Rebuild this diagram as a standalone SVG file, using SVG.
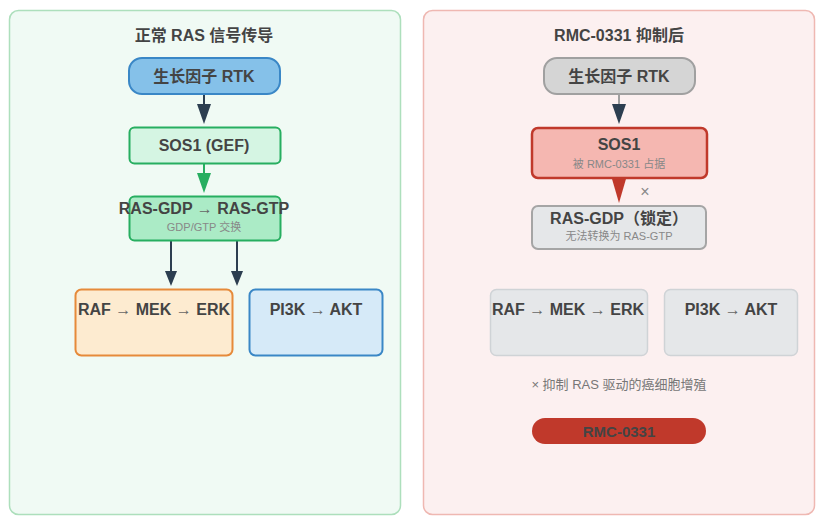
<svg xmlns="http://www.w3.org/2000/svg" width="829" height="526" viewBox="0 0 829 526">
<defs>
<style>
.t{font-family:"Liberation Sans","Noto Sans CJK SC",sans-serif;font-weight:bold;fill:#444;text-anchor:middle}
.s{font-family:"Liberation Sans","Noto Sans CJK SC",sans-serif;fill:#888;text-anchor:middle;font-size:11px}
.ar{font-weight:normal;fill:#666}
.dk{stroke:#2c3e50;stroke-width:2;fill:none}
</style>
</defs>
<rect width="829" height="526" fill="#ffffff"/>
<g id="panel-left">
<rect x="9.5" y="10.5" width="391" height="504" rx="9" fill="#f0faf4" stroke="#addfbc" stroke-width="1.5"/>
<text class="t" x="204" y="41" font-size="16">正常 RAS 信号传导</text>
</g>
<g id="panel-right">
<rect x="423.5" y="10.5" width="391" height="504" rx="9" fill="#fcf0f0" stroke="#efb8b2" stroke-width="1.5"/>
<text class="t" x="619" y="41" font-size="16">RMC-0331 抑制后</text>
</g>
<g id="connectors">
<line x1="204" y1="94" x2="204" y2="104" class="dk"/>
<path d="M197,104 L211,104 L204,124 Z" fill="#2c3e50"/>
<line x1="204" y1="163" x2="204" y2="173" stroke="#27ae60" stroke-width="2"/>
<path d="M197,173 L211,173 L204,193 Z" fill="#27ae60"/>
<line x1="171" y1="240" x2="171" y2="272" class="dk"/>
<path d="M165,271 L177,271 L171,286 Z" fill="#2c3e50"/>
<line x1="237" y1="240" x2="237" y2="272" class="dk"/>
<path d="M231,271 L243,271 L237,286 Z" fill="#2c3e50"/>
<line x1="619" y1="94" x2="619" y2="104" stroke="#a0a0a0" stroke-width="2"/>
<path d="M612,104 L626,104 L619,124 Z" fill="#2c3e50"/>
<path d="M610,172 L628,172 L619,203 Z" fill="#c0392b"/>
<text x="645" y="197" font-family="Liberation Sans, sans-serif" font-size="16" fill="#888" text-anchor="middle">×</text>
</g>
<g id="rtk-left">
<rect x="129" y="58" width="151" height="36" rx="13" fill="#85c1e9" stroke="#3a87c6" stroke-width="2"/>
<text class="t" x="204" y="82" font-size="16">生长因子 RTK</text>
</g>
<g id="sos1-left">
<rect x="129.5" y="127.5" width="151" height="36" rx="5" fill="#d5f5e3" stroke="#27ae60" stroke-width="2"/>
<text class="t" x="204" y="151" font-size="16">SOS1 (GEF)</text>
</g>
<g id="ras-left">
<rect x="129.5" y="196.5" width="151" height="44" rx="5" fill="#abebc6" stroke="#27ae60" stroke-width="2"/>
<text class="t" x="204" y="214" font-size="16">RAS-GDP <tspan class="ar">→</tspan> RAS-GTP</text>
<text class="s" x="204" y="231">GDP/GTP 交换</text>
</g>
<g id="raf-left">
<rect x="75.5" y="289.5" width="157" height="66" rx="6" fill="#fdebd0" stroke="#e68a3a" stroke-width="2"/>
<text class="t" x="154" y="315" font-size="16">RAF <tspan class="ar">→</tspan> MEK <tspan class="ar">→</tspan> ERK</text>
</g>
<g id="pi3k-left">
<rect x="249.5" y="289.5" width="133" height="66" rx="6" fill="#d6eaf8" stroke="#3a87c6" stroke-width="2"/>
<text class="t" x="316" y="315" font-size="16">PI3K <tspan class="ar">→</tspan> AKT</text>
</g>
<g id="rtk-right">
<rect x="544" y="58" width="151" height="36" rx="13" fill="#d5d5d5" stroke="#a0a0a0" stroke-width="2"/>
<text class="t" x="619" y="82" font-size="16">生长因子 RTK</text>
</g>
<g id="sos1-right">
<rect x="532" y="128" width="175" height="50" rx="6" fill="#f5b7b1" stroke="#c0392b" stroke-width="2.5"/>
<text class="t" x="619" y="150" font-size="16">SOS1</text>
<text class="s" x="619" y="168">被 RMC-0331 占据</text>
</g>
<g id="ras-right">
<rect x="532" y="206" width="174" height="43" rx="6" fill="#e5e7e9" stroke="#a5a5a5" stroke-width="2"/>
<text class="t" x="619" y="224" font-size="16">RAS-GDP（锁定）</text>
<text class="s" x="619" y="240">无法转换为 RAS-GTP</text>
</g>
<g id="raf-right">
<rect x="490.5" y="289.5" width="157" height="66" rx="6" fill="#e5e7e9" stroke="#cfd3d6" stroke-width="1.5"/>
<text class="t" x="568" y="315" font-size="16">RAF <tspan class="ar">→</tspan> MEK <tspan class="ar">→</tspan> ERK</text>
</g>
<g id="pi3k-right">
<rect x="664.5" y="289.5" width="133" height="66" rx="6" fill="#e5e7e9" stroke="#cfd3d6" stroke-width="1.5"/>
<text class="t" x="731" y="315" font-size="16">PI3K <tspan class="ar">→</tspan> AKT</text>
</g>
<g id="note">
<text x="619" y="389" font-family="Liberation Sans, Noto Sans CJK SC, sans-serif" font-size="13" fill="#777" text-anchor="middle">× 抑制 RAS 驱动的癌细胞增殖</text>
</g>
<g id="rmc-badge">
<rect x="532" y="418" width="174" height="26" rx="13" fill="#c0392b"/>
<text class="t" x="619" y="437" font-size="15">RMC-0331</text>
</g>
</svg>
